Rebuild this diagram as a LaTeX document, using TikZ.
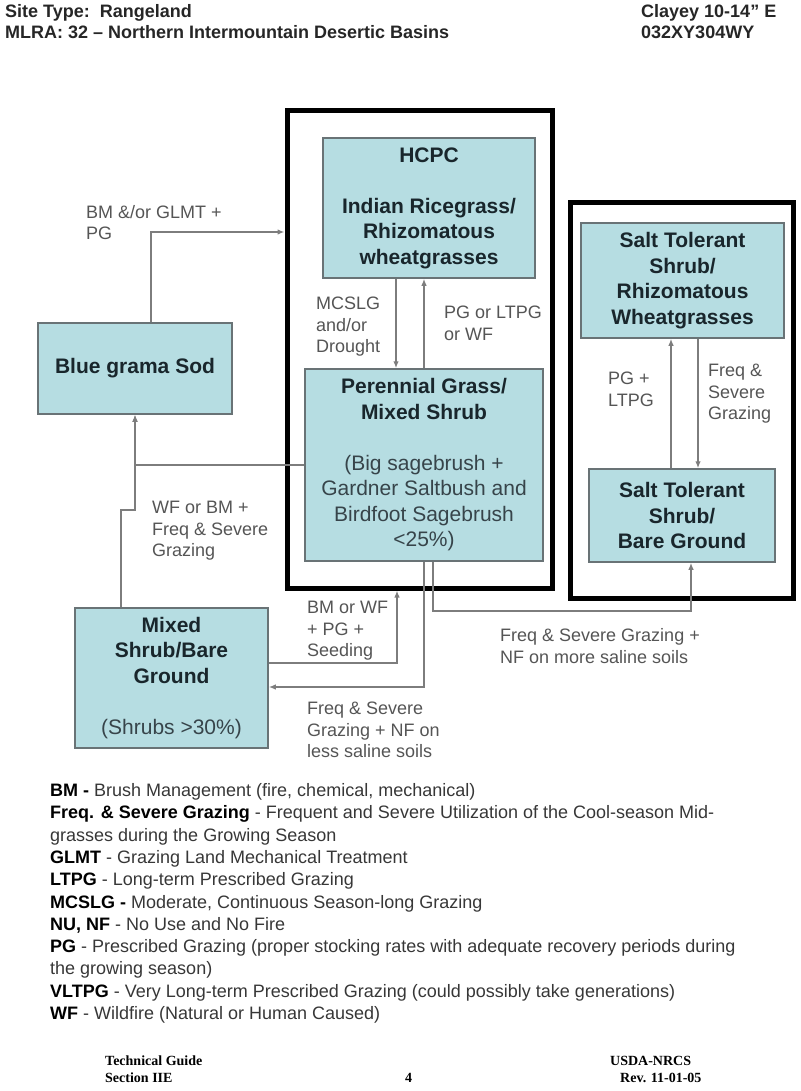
\documentclass[tikz,border=0pt]{standalone}
\usepackage{xcolor}
\usepackage{fontspec}
\setmainfont{Liberation Sans}
\newfontfamily\footfont{Liberation Serif}
\usetikzlibrary{arrows.meta}
\definecolor{boxfill}{RGB}{182,221,226}
\definecolor{boxline}{RGB}{105,115,118}
\definecolor{linkgray}{RGB}{125,125,125}
\definecolor{labelgray}{RGB}{85,85,85}
\definecolor{boxtext}{RGB}{25,38,44}
\definecolor{softtext}{RGB}{55,68,74}
\definecolor{keytext}{RGB}{55,55,55}
\newcommand{\plainline}[1]{{\mdseries\color{softtext}#1}}

\begin{document}
\begin{tikzpicture}[x=1pt,y=-1pt]
  \tikzstyle{every node}=[inner sep=0pt]
  \tikzstyle{phase}=[rectangle, draw=boxline, line width=1.5pt, fill=boxfill, text=boxtext, align=center, font=\fontsize{21}{25.5}\selectfont\bfseries]
  \tikzstyle{group}=[rectangle, draw=black, line width=5pt]
  \tikzstyle{cond}=[anchor=base west, align=left, text=labelgray, font=\fontsize{18}{21.5}\selectfont]
  \tikzstyle{link}=[draw=linkgray, line width=1.5pt, -{Latex[length=7pt,width=5.5pt]}]
  \useasboundingbox (0,0) rectangle (800,1091);

  \node (SiteType)[anchor=base west, align=left, font=\fontsize{18}{21}\selectfont\bfseries, text=black!85] at (5,38.5)
    {Site Type:\ \ Rangeland\\MLRA: 32 -- Northern Intermountain Desertic Basins};
  \node (SiteCode)[anchor=base west, align=left, font=\fontsize{18}{21}\selectfont\bfseries, text=black!85] at (641,38.5)
    {Clayey 10-14" E\\032XY304WY};

  \node (GroupA)[group, minimum width=265pt, minimum height=477pt] at (419.5,349.5) {};
  \node (GroupB)[group, minimum width=223pt, minimum height=395pt] at (681.5,400.5) {};

  \node (HCPC)[phase, minimum width=212pt, minimum height=140pt] at (429,208)
    {HCPC\\[25.5pt]Indian Ricegrass/\\Rhizomatous\\wheatgrasses};
  \node (Perennial)[phase, minimum width=238pt, minimum height=192pt] at (424,465)
    {Perennial Grass/\\Mixed Shrub\\[25.5pt]\plainline{(Big sagebrush +}\\\plainline{Gardner Saltbush and}\\\plainline{Birdfoot Sagebrush}\\\plainline{<25\%)}};
  \node (BlueGrama)[phase, minimum width=194pt, minimum height=91pt] at (135,368.5) {Blue grama Sod};
  \node (MixedShrub)[phase, minimum width=193pt, minimum height=140pt] at (171.5,678)
    {Mixed\\Shrub/Bare\\Ground\\[25.5pt]\plainline{(Shrubs >30\%)}};
  \node (SaltWheat)[phase, minimum width=203pt, minimum height=115pt] at (682.5,280.5)
    {Salt Tolerant\\Shrub/\\Rhizomatous\\Wheatgrasses};
  \node (SaltBare)[phase, minimum width=186pt, minimum height=93pt] at (682,515.5)
    {Salt Tolerant\\Shrub/\\Bare Ground};

  \coordinate (BgBend) at (151,232);
  \coordinate (MxBend) at (121,510);
  \coordinate (SeedBend) at (397,663);
  \coordinate (LessBend) at (424,687);
  \coordinate (MoreBend) at (433,611);

  \draw[link] (BgBend |- BlueGrama.north) -- (BgBend) -- (BgBend -| GroupA.west);
  \draw[link] ([xshift=-33pt]HCPC.south) -- ([xshift=-33pt]HCPC.south |- Perennial.north);
  \draw[link] (Perennial.north) -- (Perennial.north |- HCPC.south);
  \draw[link] (Perennial.west) -| (BlueGrama.south);
  \draw[link] (MxBend |- MixedShrub.north) -- (MxBend) -| (BlueGrama.south);
  \draw[link] (SeedBend -| MixedShrub.east) -- (SeedBend) -- (SeedBend |- GroupA.south);
  \draw[link] (Perennial.south) -- (LessBend) -- (LessBend -| MixedShrub.east);
  \draw[link] (MoreBend |- Perennial.south) -- (MoreBend) -| ([xshift=9pt]SaltBare.south);
  \draw[link] ([xshift=-11pt]SaltBare.north) -- ([xshift=-11pt]SaltBare.north |- SaltWheat.south);
  \draw[link] ([xshift=15.5pt]SaltWheat.south) -- ([xshift=15.5pt]SaltWheat.south |- SaltBare.north);

  \node (LblGlmt)[cond] at (86,240) {BM \&/or GLMT +\\PG};
  \node (LblMcslg)[cond] at (316,352.5) {MCSLG\\and/or\\Drought};
  \node (LblLtpg)[cond] at (444,340) {PG or LTPG\\or WF};
  \node (LblWfBm)[cond] at (152,556.5) {WF or BM +\\Freq \& Severe\\Grazing};
  \node (LblSeed)[cond] at (307,656.5) {BM or WF\\+ PG +\\Seeding};
  \node (LblMore)[cond] at (500,663) {Freq \& Severe Grazing +\\NF on more saline soils};
  \node (LblLess)[cond] at (307,757.5) {Freq \& Severe\\Grazing + NF on\\less saline soils};
  \node (LblPgLtpg)[cond] at (608,406) {PG +\\LTPG};
  \node (LblFreqSalt)[cond] at (708,419.5) {Freq \&\\Severe\\Grazing};

  \node (Legend)[anchor=base west, align=left, text=keytext, font=\fontsize{18}{22.3}\selectfont] at (50,1019.5)
    {\textbf{\color{black}BM -} Brush Management (fire, chemical, mechanical)\\
     \textbf{\color{black}Freq. \& Severe Grazing} - Frequent and Severe Utilization of the Cool-season Mid-\\
     grasses during the Growing Season\\
     \textbf{\color{black}GLMT} - Grazing Land Mechanical Treatment\\
     \textbf{\color{black}LTPG} - Long-term Prescribed Grazing\\
     \textbf{\color{black}MCSLG -} Moderate, Continuous Season-long Grazing\\
     \textbf{\color{black}NU, NF} - No Use and No Fire\\
     \textbf{\color{black}PG} - Prescribed Grazing (proper stocking rates with adequate recovery periods during\\
     the growing season)\\
     \textbf{\color{black}VLTPG} - Very Long-term Prescribed Grazing (could possibly take generations)\\
     \textbf{\color{black}WF} - Wildfire (Natural or Human Caused)};

  \node (FootLeft)[anchor=base west, align=left, font=\footfont\fontsize{14}{17}\selectfont\bfseries] at (105,1082)
    {Technical Guide\\Section IIE};
  \node (FootPage)[anchor=base west, font=\footfont\fontsize{14}{17}\selectfont\bfseries] at (405,1082) {4};
  \node (FootRight)[anchor=base west, align=left, font=\footfont\fontsize{14}{17}\selectfont\bfseries] at (610,1082)
    {USDA-NRCS\\\hspace*{10pt}Rev. 11-01-05};
\end{tikzpicture}
\end{document}
